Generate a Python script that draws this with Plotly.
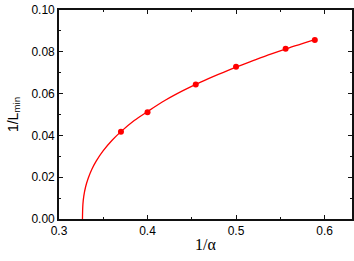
import plotly.graph_objects as go

# measured points
pt_x = [0.370, 0.400, 0.4545, 0.500, 0.556, 0.589]
pt_y = [0.0418, 0.0511, 0.0643, 0.0728, 0.0815, 0.0857]

# fitted curve
curve_x = [0.3265, 0.327, 0.328, 0.330, 0.333, 0.337, 0.342, 0.350, 0.360, 0.370,
           0.385, 0.400, 0.420, 0.440, 0.460, 0.480, 0.500, 0.520, 0.540, 0.560,
           0.580, 0.589]
curve_y = [0.0, 0.0070, 0.0109, 0.0153, 0.0195, 0.0237, 0.0277, 0.0327, 0.0377, 0.0418,
           0.0471, 0.0514, 0.0568, 0.0614, 0.0655, 0.0692, 0.0727, 0.0759, 0.0790, 0.0819,
           0.0846, 0.0858]

x_ticks = [0.3, 0.4, 0.5, 0.6]
x_labels = ["0.3", "0.4", "0.5", "0.6"]
y_ticks = [0.00, 0.02, 0.04, 0.06, 0.08, 0.10]
y_labels = ["0.00", "0.02", "0.04", "0.06", "0.08", "0.10"]

fig = go.Figure()
fig.add_trace(go.Scatter(x=curve_x, y=curve_y, mode="lines",
                         line=dict(color="#ff0000", width=1.3, shape="spline"),
                         hoverinfo="skip", showlegend=False))
fig.add_trace(go.Scatter(x=pt_x, y=pt_y, mode="markers",
                         marker=dict(color="#ff0000", size=6),
                         showlegend=False))

axis_common = dict(showline=True, linecolor="#111111", linewidth=1.6, mirror="ticks",
                   ticks="inside", ticklen=4, tickwidth=1.2, tickcolor="#111111",
                   showgrid=False, zeroline=False, automargin=False,
                   tickfont=dict(family="Liberation Sans", size=12, color="black"))

fig.update_layout(
    width=354, height=261,
    margin=dict(l=59, r=2, t=10, b=42),
    paper_bgcolor="white", plot_bgcolor="white",
    xaxis=dict(range=[0.3, 0.631], tickvals=x_ticks, ticktext=x_labels,
               minor=dict(ticks="inside", ticklen=2.5, dtick=0.05, tick0=0.3, tickcolor="#111111", tickwidth=1),
               title=dict(text="1/α", font=dict(family="Liberation Serif", size=16, color="black"),
                          standoff=2),
               **axis_common),
    yaxis=dict(range=[0, 0.10], tickvals=y_ticks, ticktext=y_labels,
               minor=dict(ticks="inside", ticklen=2.5, dtick=0.01, tick0=0, tickcolor="#111111", tickwidth=1),
               title=dict(text="1/L<sub>min</sub>", font=dict(family="Liberation Sans", size=14, color="black"),
                          standoff=10),
               **axis_common),
)

fig.write_html("out.html", config={"displayModeBar": False},
               post_script="document.body.style.margin='0';document.body.style.overflow='hidden';")
